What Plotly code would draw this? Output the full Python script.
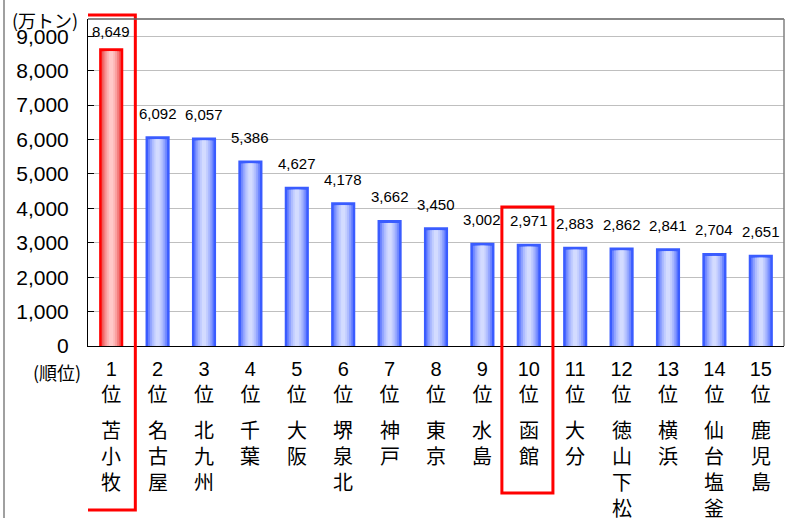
import plotly.graph_objects as go

# ---- data ----
ranks = list(range(1, 16))
ports = ["苫小牧", "名古屋", "北九州", "千葉", "大阪", "堺泉北", "神戸", "東京",
         "水島", "函館", "大分", "徳山下松", "横浜", "仙台塩釜", "鹿児島"]
values = [8649, 6092, 6057, 5386, 4627, 4178, 3662, 3450,
          3002, 2971, 2883, 2862, 2841, 2704, 2651]
rank_labels = [f"{r}<br>位" for r in ranks]
highlight_ranks = [1, 10]
unit_label = "(万トン)"
rank_axis_label = "(順位)"

# ---- layout constants ----
W, H = 798, 518
ML, MR, MT, MB = 88, 14, 19, 172
YMAX = 9500
plot_h = H - MT - MB
plot_w = W - ML - MR
units_per_px = YMAX / plot_h

FONT = "Liberation Sans, Noto Sans CJK JP, sans-serif"
CJK = "Noto Sans CJK JP, sans-serif"

fig = go.Figure()

# bar colours (gradient layers, outer -> inner)
blue_layers = ["#3A5CFF", "#6E86FF", "#90A3FF", "#ADBBFF", "#C2CDFF", "#D3DBFF"]
red_layers = ["#FF0000", "#F05A5A", "#F57F7F", "#FA9E9E", "#FDB6B6", "#FFC8C8"]
widths = [0.52, 0.41, 0.33, 0.25, 0.17, 0.09]
inset = 3 * units_per_px

for li, w in enumerate(widths):
    cols = [(red_layers if r == highlight_ranks[0] else blue_layers)[li] for r in ranks]
    ys = values if li == 0 else [v - inset for v in values]
    fig.add_trace(go.Bar(
        x=ranks, y=ys, width=[w] * len(ranks),
        marker=dict(color=cols, line=dict(width=0)),
        hoverinfo="skip", showlegend=False,
    ))

# data labels
label_gap = 23 * units_per_px
label_cap = YMAX - 12 * units_per_px
for r, v in zip(ranks, values):
    fig.add_annotation(x=r, y=min(v + label_gap, label_cap), xref="x", yref="y",
                       text=f"{v:,}", showarrow=False, yanchor="middle",
                       font=dict(family=FONT, size=15, color="#000"))

# port names (vertical)
for r, name in zip(ranks, ports):
    fig.add_annotation(x=r, y=-0.205, xref="x", yref="paper",
                       text="<br>".join(list(name)), showarrow=False,
                       yanchor="top", xanchor="center",
                       font=dict(family=CJK, size=20, color="#000"))

# unit labels
fig.add_annotation(x=(10 - ML) / plot_w, y=(H - MB - 20) / plot_h,
                   xref="paper", yref="paper", text=unit_label, showarrow=False,
                   xanchor="left", yanchor="middle",
                   font=dict(family=CJK, size=18, color="#000"))
fig.add_annotation(x=(83 - ML) / plot_w, y=(H - MB - 372) / plot_h,
                   xref="paper", yref="paper", text=rank_axis_label, showarrow=False,
                   xanchor="right", yanchor="middle",
                   font=dict(family=CJK, size=18, color="#000"))

# highlight boxes
rect_tops = {1: (H - MB - 15) / plot_h, 10: (H - MB - 207) / plot_h}
rect_bottoms = {1: (H - MB - 510) / plot_h, 10: (H - MB - 493) / plot_h}
for r in highlight_ranks:
    fig.add_shape(type="rect", xref="x", yref="paper",
                  x0=r - 0.58, x1=r + 0.52, y0=rect_bottoms[r], y1=rect_tops[r],
                  line=dict(color="#FF0000", width=3), fillcolor="rgba(0,0,0,0)",
                  layer="above")

# plot frame top/right
fig.add_shape(type="line", xref="paper", yref="paper", x0=0, x1=1, y0=1, y1=1,
              line=dict(color="#606060", width=1.5))
fig.add_shape(type="line", xref="paper", yref="paper", x0=1, x1=1, y0=0, y1=1,
              line=dict(color="#808080", width=1.5))
# outer left border line
fig.add_shape(type="line", xref="paper", yref="paper",
              x0=(4 - ML) / plot_w, x1=(4 - ML) / plot_w,
              y0=-MB / plot_h, y1=(plot_h + MT) / plot_h,
              line=dict(color="#A0A0A0", width=2))

fig.update_layout(
    width=W, height=H,
    margin=dict(l=ML, r=MR, t=MT, b=MB, autoexpand=False),
    barmode="overlay",
    plot_bgcolor="white", paper_bgcolor="white",
    showlegend=False,
    xaxis=dict(
        range=[0.5, 15.5], tickmode="array", tickvals=ranks, ticktext=rank_labels,
        showline=True, linecolor="#000", linewidth=1, ticks="",
        showgrid=False, zeroline=False, automargin=False,
        tickfont=dict(family=FONT, size=20, color="#000"),
        ticklabelstandoff=5,
    ),
    yaxis=dict(
        range=[0, YMAX], tickmode="linear", tick0=0, dtick=1000, tickformat=",",
        showline=True, linecolor="#000", linewidth=1,
        ticks="inside", ticklen=6, tickcolor="#000",
        showgrid=True, gridcolor="#BFBFBF", gridwidth=1, zeroline=False,
        automargin=False,
        tickfont=dict(family=FONT, size=21, color="#000"),
        ticklabelstandoff=14,
    ),
)

fig.write_html("out.html",
               config={"displayModeBar": False},
               post_script="document.body.style.margin='0';document.body.style.padding='0';")
